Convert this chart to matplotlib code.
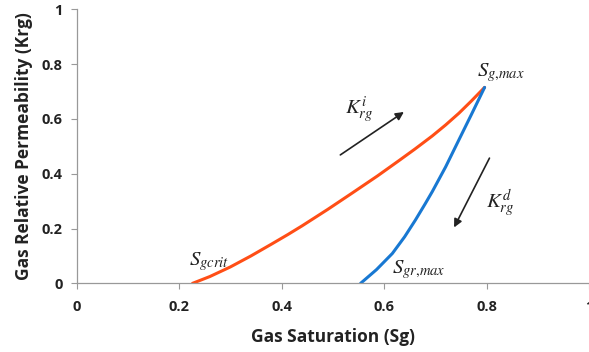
import matplotlib
matplotlib.use("Agg")
import matplotlib.pyplot as plt

# imbibition curve (orange)
sg_imb = [0.226, 0.26, 0.30, 0.34, 0.38, 0.412, 0.44, 0.49, 0.538, 0.587,
          0.629, 0.66, 0.694, 0.72, 0.746, 0.77, 0.796]
krg_imb = [0.0, 0.025, 0.06, 0.10, 0.143, 0.178, 0.21, 0.27, 0.33, 0.392,
           0.448, 0.49, 0.538, 0.578, 0.621, 0.665, 0.715]

# drainage curve (blue)
sg_dr = [0.554, 0.585, 0.616, 0.64, 0.661, 0.68, 0.694, 0.72, 0.746, 0.77, 0.796]
krg_dr = [0.0, 0.05, 0.109, 0.17, 0.231, 0.29, 0.335, 0.425, 0.524, 0.615, 0.715]

xticks = [0, 0.2, 0.4, 0.6, 0.8, 1]
yticks = [0, 0.2, 0.4, 0.6, 0.8, 1]
tick_labels = ['0', '0.2', '0.4', '0.6', '0.8', '1']

plt.rcParams['mathtext.fontset'] = 'stix'
plt.rcParams['font.family'] = ['Open Sans', 'DejaVu Sans']

fig = plt.figure(figsize=(5.89, 3.52), dpi=100, facecolor='white')
ax = fig.add_axes([0.1302, 0.195, 0.870, 0.7786])

ax.plot(sg_imb, krg_imb, color='#FF4E16', lw=2.2, solid_capstyle='round',
        solid_joinstyle='round')
ax.plot(sg_dr, krg_dr, color='#1878D2', lw=2.2, solid_capstyle='round',
        solid_joinstyle='round')

ax.set_xlim(0, 1)
ax.set_ylim(0, 1)
ax.set_xticks(xticks)
ax.set_yticks(yticks)
ax.set_xticklabels(tick_labels, fontsize=10.5, fontweight='bold', color='#222222')
ax.set_yticklabels(tick_labels, fontsize=10.5, fontweight='bold', color='#222222')
ax.tick_params(axis='both', length=4, color='#999999', width=0.8)
ax.tick_params(axis='x', pad=8)
ax.tick_params(axis='y', pad=6)

for side in ['top', 'right']:
    ax.spines[side].set_visible(False)
for side in ['left', 'bottom']:
    ax.spines[side].set_color('#999999')
    ax.spines[side].set_linewidth(0.9)

ax.set_xlabel('Gas Saturation (Sg)', fontsize=12.5, fontweight='bold', color='#222222', labelpad=10)
ax.set_ylabel('Gas Relative Permeability (Krg)', fontsize=12.5, fontweight='bold', color='#222222', labelpad=6)

# annotations
tk = dict(fontsize=15, ha='center', va='center', color='#222222')
ax.text(0.827, 0.77, r'$S_{g{,}max}$', **tk)
ax.text(0.551, 0.634, r'$K_{rg}^{i}$', **tk)
ax.text(0.827, 0.294, r'$K_{rg}^{d}$', **tk)
ax.text(0.259, 0.078, r'$S_{gcrit}$', **tk)
ax.text(0.668, 0.049, r'$S_{gr{,}max}$', **tk)

arw = dict(arrowstyle='-|>', color='#222222', lw=1.2, mutation_scale=12)
ax.annotate('', xy=(0.643, 0.631), xytext=(0.510, 0.463), arrowprops=arw)
ax.annotate('', xy=(0.734, 0.195), xytext=(0.808, 0.466), arrowprops=arw)

fig.savefig('out.png', dpi=100, facecolor='white')
